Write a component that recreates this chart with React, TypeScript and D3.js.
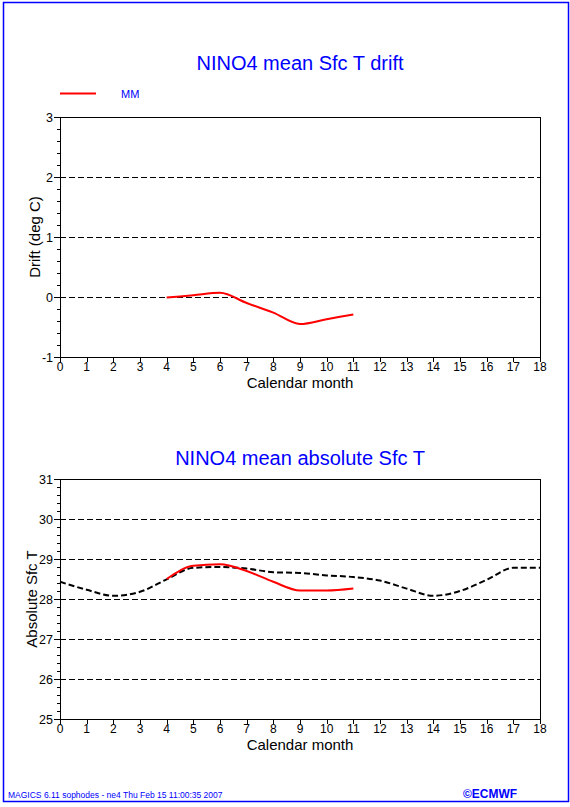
import React from "react";
import * as d3 from "d3";

const xTicks = [0, 1, 2, 3, 4, 5, 6, 7, 8, 9, 10, 11, 12, 13, 14, 15, 16, 17, 18];
const driftTicks = [-1, 0, 1, 2, 3];
const driftGrid = [0, 1, 2];
const absTicks = [25, 26, 27, 28, 29, 30, 31];
const absGrid = [26, 27, 28, 29, 30];

const climMonths = [0, 1, 2, 3, 4, 5, 6, 7, 8, 9, 10, 11, 12, 13, 14, 15, 16, 17, 18];
const climSfcT = [28.43, 28.23, 28.08, 28.18, 28.49, 28.78, 28.8, 28.76, 28.67, 28.65, 28.59, 28.55, 28.46, 28.26, 28.08, 28.2, 28.48, 28.78, 28.78];

const mmMonths = [4, 5, 6, 7, 8, 9, 10, 11];
const mmSfcT = [28.5, 28.83, 28.87, 28.7, 28.43, 28.21, 28.21, 28.26];
const mmDrift = [-0.01, 0.03, 0.07, -0.1, -0.26, -0.45, -0.37, -0.29];

const FONT = "'Liberation Sans', Arial, sans-serif";
const BLUE = "#0000ff";

type PanelProps = {
  y: d3.ScaleLinear<number, number>;
  ticks: number[];
  grid: number[];
  ylabel: string;
  ylabelX: number;
  title: string;
  titleY: number;
  children?: React.ReactNode;
};

const x = d3.scaleLinear().domain([0, 18]).range([60, 540]);
const px = (v: number) => Math.round(v) + 0.5;

function Panel({ y, ticks, grid, ylabel, ylabelX, title, titleY, children }: PanelProps) {
  const [y0, y1] = y.range();
  const [d0, d1] = y.domain();
  const minor: number[] = [];
  for (let v = d0; v <= d1 + 1e-9; v += 0.2) {
    const r = Math.round(v * 10) / 10;
    if (Math.abs(r - Math.round(r)) > 1e-6) minor.push(r);
  }
  return (
    <g>
      <text x={300} y={titleY} textAnchor="middle" fill={BLUE} fontSize={20} fontFamily={FONT}>
        {title}
      </text>
      <g shapeRendering="crispEdges">
        {grid.map((g) => (
          <line key={"g" + g} x1={60} x2={540} y1={px(y(g))} y2={px(y(g))} stroke="#000" strokeWidth={1} strokeDasharray="6,3" />
        ))}
      </g>
      {children}
      <g shapeRendering="crispEdges">
        <rect x={60.5} y={y1 + 0.5} width={480} height={y0 - y1} fill="none" stroke="#000" strokeWidth={1} />
        {ticks.map((t) => (
          <line key={"yt" + t} x1={54} x2={60} y1={px(y(t))} y2={px(y(t))} stroke="#000" />
        ))}
        {minor.map((t) => (
          <line key={"ym" + t} x1={57} x2={60} y1={px(y(t))} y2={px(y(t))} stroke="#000" />
        ))}
        {xTicks.map((t) => (
          <line key={"xt" + t} x1={px(x(t))} x2={px(x(t))} y1={y0} y2={y0 + 5} stroke="#000" />
        ))}
      </g>
      {ticks.map((t) => (
        <text key={"yl" + t} x={53} y={y(t) + 4.5} textAnchor="end" fontSize={12.5} fontFamily={FONT}>
          {t}
        </text>
      ))}
      {xTicks.map((t) => (
        <text key={"xl" + t} x={x(t)} y={y0 + 14} textAnchor="middle" fontSize={12} fontFamily={FONT}>
          {t}
        </text>
      ))}
      <text x={300} y={y0 + 31} textAnchor="middle" fontSize={15} fontFamily={FONT}>
        Calendar month
      </text>
      <text
        transform={`translate(${ylabelX},${(y0 + y1) / 2}) rotate(-90)`}
        textAnchor="middle"
        fontSize={15}
        fontFamily={FONT}
      >
        {ylabel}
      </text>
    </g>
  );
}

export default function App() {
  const yTop = d3.scaleLinear().domain([-1, 3]).range([357, 117]);
  const yBot = d3.scaleLinear().domain([25, 31]).range([719, 479]);

  const lineTop = d3
    .line<number>()
    .x((_, i) => x(mmMonths[i]))
    .y((d) => yTop(d))
    .curve(d3.curveMonotoneX);
  const lineClim = d3
    .line<number>()
    .x((_, i) => x(climMonths[i]))
    .y((d) => yBot(d))
    .curve(d3.curveMonotoneX);
  const lineMM = d3
    .line<number>()
    .x((_, i) => x(mmMonths[i]))
    .y((d) => yBot(d))
    .curve(d3.curveMonotoneX);

  return (
    <svg width={570} height={807} style={{ position: "absolute", left: 0, top: 0, background: "#fff" }}>
      <rect x={0} y={0} width={570} height={807} fill="#fff" />
      <rect x={3.5} y={2.5} width={565} height={799} fill="none" stroke={BLUE} strokeWidth={1.5} />

      <line x1={60} x2={96} y1={93.5} y2={93.5} stroke="#ff0000" strokeWidth={2} />
      <text x={121} y={98} fill={BLUE} fontSize={11} fontFamily={FONT}>
        MM
      </text>

      <Panel y={yTop} ticks={driftTicks} grid={driftGrid} ylabel="Drift (deg C)" ylabelX={40} title="NINO4 mean Sfc T drift" titleY={70}>
        <path d={lineTop(mmDrift) || ""} fill="none" stroke="#ff0000" strokeWidth={2} />
      </Panel>

      <Panel y={yBot} ticks={absTicks} grid={absGrid} ylabel="Absolute Sfc T" ylabelX={37} title="NINO4 mean absolute Sfc T" titleY={465}>
        <path d={lineClim(climSfcT) || ""} fill="none" stroke="#000" strokeWidth={2} strokeDasharray="6,3" />
        <path d={lineMM(mmSfcT) || ""} fill="none" stroke="#ff0000" strokeWidth={2} />
      </Panel>

      <text x={8} y={798} fill={BLUE} fontSize={8.5} fontFamily={FONT}>
        MAGICS 6.11 sophodes - ne4 Thu Feb 15 11:00:35 2007
      </text>
      <text x={463} y={798} fill={BLUE} fontSize={12} fontWeight="bold" fontFamily={FONT} textLength={54} lengthAdjust="spacingAndGlyphs">
        ©ECMWF
      </text>
    </svg>
  );
}
